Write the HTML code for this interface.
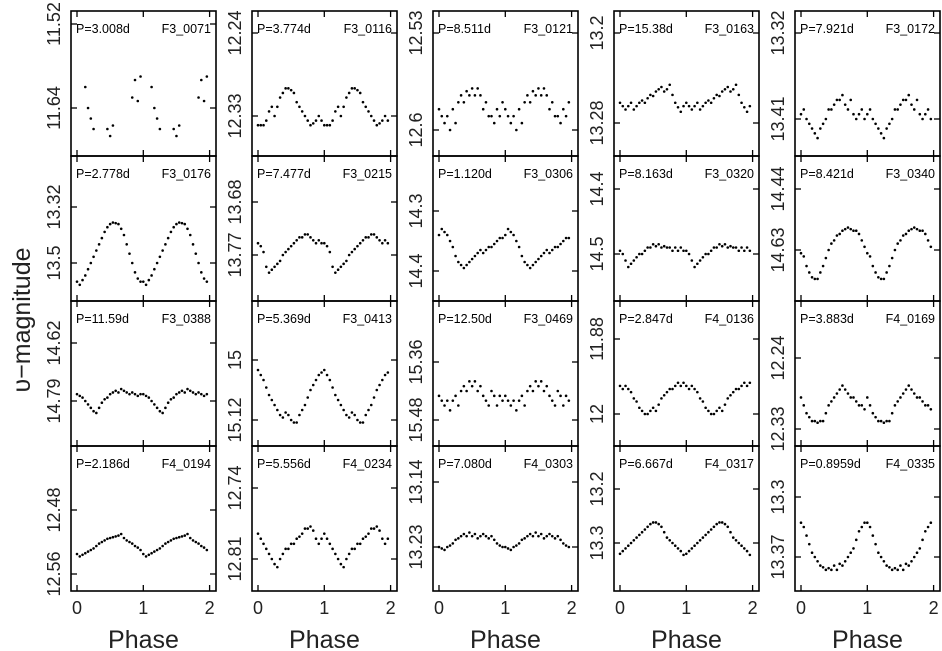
<!DOCTYPE html>
<html><head><meta charset="utf-8"><style>
body{margin:0;background:#fff}
svg{display:block;font-family:"Liberation Sans",sans-serif}
</style></head><body>
<svg id="c" width="942" height="651" viewBox="0 0 942 651"></svg>
<script>
const periods=["3.008d","3.774d","8.511d","15.38d","7.921d","2.778d","7.477d","1.120d","8.163d","8.421d","11.59d","5.369d","12.50d","2.847d","3.883d","2.186d","5.556d","7.080d","6.667d","0.8959d"];
const ids=["F3_0071","F3_0116","F3_0121","F3_0163","F3_0172","F3_0176","F3_0215","F3_0306","F3_0320","F3_0340","F3_0388","F3_0413","F3_0469","F4_0136","F4_0169","F4_0194","F4_0234","F4_0303","F4_0317","F4_0335"];
const tickVals=[[11.52,11.64],[12.24,12.33],[12.53,12.6],[13.2,13.28],[13.32,13.41],[13.32,13.5],[13.68,13.77],[14.3,14.4],[14.4,14.5],[14.44,14.63],[14.62,14.79],[15,15.12],[15.36,15.48],[11.88,12],[12.24,12.33],[12.48,12.56],[12.74,12.81],[13.14,13.23],[13.2,13.3],[13.3,13.37]];
const tickLabels=[["11.52","11.64"],["12.24","12.33"],["12.53","12.6"],["13.2","13.28"],["13.32","13.41"],["13.32","13.5"],["13.68","13.77"],["14.3","14.4"],["14.4","14.5"],["14.44","14.63"],["14.62","14.79"],["15","15.12"],["15.36","15.48"],["11.88","12"],["12.24","12.33"],["12.48","12.56"],["12.74","12.81"],["13.14","13.23"],["13.2","13.3"],["13.3","13.37"]];
const n=null;
const mags=[
[n,n,n,11.61,11.64,11.655,11.67,n,n,n,n,11.67,11.68,11.665,n,n,n,n,n,n,11.625,11.60,11.63,11.595],
[12.34,12.34,12.34,12.335,12.325,12.32,12.33,12.32,12.31,12.305,12.30,12.30,12.302,12.305,12.315,12.32,12.325,12.33,12.335,12.34,12.338,12.335,12.33,12.335],
[12.585,12.59,12.595,12.59,12.60,12.585,12.595,12.58,12.575,12.58,12.572,12.575,12.57,12.575,12.57,12.575,12.585,12.58,12.59,12.59,12.595,12.585,12.59,12.58],
[13.262,13.265,13.268,13.265,13.262,13.268,13.265,13.262,13.26,13.262,13.258,13.255,13.256,13.252,13.25,13.248,13.252,13.25,13.246,13.255,13.262,13.266,13.27,13.265],
[13.405,13.40,13.41,13.415,13.42,13.425,13.43,13.42,13.415,13.41,13.40,13.40,13.395,13.39,13.39,13.385,13.395,13.40,13.39,13.405,13.41,13.405,13.40,13.41],
[13.56,13.57,13.555,13.54,13.52,13.50,13.48,13.46,13.44,13.42,13.40,13.385,13.375,13.37,13.372,13.375,13.39,13.41,13.44,13.47,13.50,13.53,13.55,13.56],
[13.75,13.755,13.765,13.79,13.80,13.795,13.79,13.785,13.78,13.77,13.765,13.76,13.755,13.75,13.745,13.74,13.74,13.735,13.735,13.74,13.745,13.75,13.745,13.75],
[14.34,14.33,14.335,14.34,14.35,14.36,14.375,14.385,14.39,14.395,14.39,14.385,14.38,14.375,14.37,14.365,14.37,14.365,14.36,14.36,14.355,14.35,14.345,14.345],
[14.495,14.50,14.51,14.52,14.515,14.51,14.505,14.50,14.50,14.495,14.49,14.49,14.485,14.488,14.485,14.49,14.488,14.49,14.49,14.495,14.49,14.495,14.49,14.495],
[14.64,14.65,14.68,14.70,14.715,14.72,14.72,14.70,14.68,14.655,14.63,14.61,14.60,14.585,14.58,14.57,14.565,14.56,14.565,14.57,14.57,14.58,14.60,14.62],
[14.77,14.775,14.78,14.79,14.80,14.81,14.82,14.825,14.81,14.795,14.785,14.78,14.77,14.765,14.76,14.765,14.755,14.76,14.765,14.77,14.765,14.77,14.775,14.77],
[15.02,15.03,15.04,15.055,15.07,15.08,15.09,15.10,15.11,15.115,15.105,15.11,15.12,15.125,15.125,15.11,15.10,15.09,15.075,15.06,15.05,15.04,15.03,15.025],
[15.43,15.44,15.45,15.44,15.46,15.44,15.43,15.45,15.42,15.41,15.42,15.40,15.41,15.40,15.42,15.41,15.43,15.44,15.45,15.42,15.43,15.45,15.43,15.44],
[11.955,11.96,11.955,11.96,11.965,11.975,11.98,11.99,11.995,12.0,12.0,11.995,11.99,11.995,11.985,11.975,11.97,11.965,11.96,11.96,11.955,11.95,11.955,11.95],
[12.29,12.30,12.31,12.315,12.32,12.32,12.322,12.32,12.32,12.31,12.30,12.295,12.29,12.285,12.28,12.275,12.28,12.285,12.29,12.29,12.295,12.30,12.30,12.305],
[12.535,12.538,12.536,12.534,12.532,12.53,12.528,12.525,12.522,12.52,12.518,12.516,12.515,12.514,12.513,12.512,12.51,12.515,12.518,12.52,12.522,12.525,12.527,12.53],
[12.785,12.79,12.795,12.80,12.805,12.81,12.815,12.818,12.81,12.805,12.80,12.80,12.795,12.795,12.79,12.788,12.785,12.78,12.78,12.778,12.782,12.79,12.795,12.79],
[13.23,13.232,13.234,13.23,13.228,13.225,13.22,13.218,13.215,13.212,13.215,13.21,13.215,13.212,13.218,13.215,13.212,13.215,13.218,13.215,13.22,13.225,13.228,13.23],
[13.32,13.315,13.31,13.305,13.30,13.295,13.29,13.285,13.28,13.275,13.27,13.265,13.262,13.262,13.265,13.27,13.28,13.29,13.295,13.30,13.305,13.31,13.315,13.322],
[13.33,13.335,13.345,13.355,13.365,13.37,13.375,13.38,13.382,13.385,13.383,13.385,13.38,13.385,13.378,13.38,13.375,13.37,13.365,13.36,13.35,13.34,13.335,13.33]
];
// pixel rows where the two y ticks sit (layout, per panel)
const tickPix=[[24,108],[33,116],[33,130],[33,123],[33,119],[207,263],[202,255],[211,271],[189,254],[189,250],[343,401],[360,420],[362,420],[339,414],[358,429],[510,574],[488,559],[482,547],[489,543],[497,557]];
const xTicks=[0,1,2];
const NS="http://www.w3.org/2000/svg";
const svg=document.getElementById('c');
function mk(t,a,p){const e=document.createElementNS(NS,t);for(const k in a)e.setAttribute(k,a[k]);(p||svg).appendChild(e);return e;}
const colL=[71,252,433,614,795], rowT=[11,156,301,446], W=145, H=145;
for(let i=0;i<20;i++){
  const c=i%5,r=Math.floor(i/5),L=colL[c],T=rowT[r];
  const g=mk('g',{});
  
  
  const xs=p=>L+6+p*66.3;
  const tv=tickVals[i],tp=tickPix[i];
  const ys=m=>tp[0]+(m-tv[0])*(tp[1]-tp[0])/(tv[1]-tv[0]);
  const box=mk('rect',{x:L,y:T,width:W,height:H,fill:'none',stroke:'#000','stroke-width':1.6},g);
  
  
  xTicks.forEach(p=>{
    mk('line',{x1:xs(p),x2:xs(p),y1:T+H,y2:T+H-6,stroke:'#000','stroke-width':1.3},g);
    mk('line',{x1:xs(p),x2:xs(p),y1:T,y2:T+6,stroke:'#000','stroke-width':1.3},g);
  });
  tv.forEach((v,k)=>{
    const y=ys(v);
    mk('line',{x1:L,x2:L+6,y1:y,y2:y,stroke:'#000','stroke-width':1.3},g);
    mk('line',{x1:L+W,x2:L+W-6,y1:y,y2:y,stroke:'#000','stroke-width':1.3},g);
    const t=mk('text',{x:0,y:0,transform:`translate(${L-11},${y}) rotate(-90)`,'text-anchor':'middle','font-size':18,fill:'#222'},g);
    t.textContent=tickLabels[i][k];
    
    
  });
  const pt=mk('text',{x:L+5,y:T+22,'font-size':12.5,fill:'#000'},g);
  pt.textContent='P='+periods[i];
  
  
  const it=mk('text',{x:L+W-5,y:T+22,'font-size':12.5,'text-anchor':'end',fill:'#000'},g);
  it.textContent=ids[i];
  
  
  mags[i].forEach((m,j)=>{
    if(m===null)return;
    [0,1].forEach(cy=>{
      const d=mk('circle',{cx:xs(j/24+cy),cy:ys(m),r:1.3,fill:'#000'},g);
      
      
    });
  });
  if(r===3){
    xTicks.forEach(p=>{
      const t=mk('text',{x:xs(p),y:614,'text-anchor':'middle','font-size':18,fill:'#222'},g);
      t.textContent=String(p);
      
      
    });
    const ph=mk('text',{x:L+W/2,y:648,'text-anchor':'middle','font-size':25,fill:'#222'},g);
    ph.textContent='Phase';
    
    
  }
}
const yt=mk('text',{x:0,y:0,transform:'translate(30,320) rotate(-90)','text-anchor':'middle','font-size':25,fill:'#222'});
yt.textContent='υ−magnitude';


</script>
</body></html>
